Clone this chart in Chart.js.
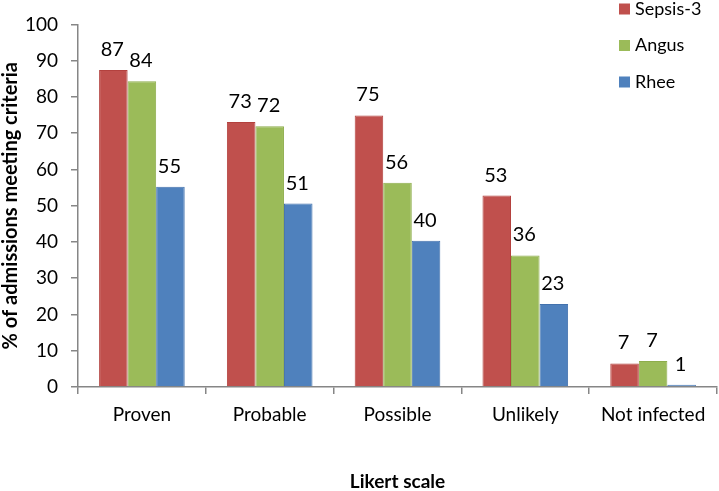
<!DOCTYPE html>
<html lang="en">
<head>
    <meta charset="UTF-8">
    <title>Likert scale</title>
    <script src="https://cdn.jsdelivr.net/npm/chart.js"></script>
    <style>
        body { margin: 0; background: #fff; }
        .container { width: 719px; height: 491px; }
    </style>
</head>
<body>
    <div class="container">
        <canvas id="likertChart" width="719" height="491"></canvas>
    </div>

    <script>
        const categories = ['Proven', 'Probable', 'Possible', 'Unlikely', 'Not infected'];
        const sepsis3 = [87.4, 73.1, 74.9, 52.8, 6.5];
        const angus = [84.3, 71.9, 56.3, 36.3, 7.2];
        const rhee = [55.2, 50.6, 40.3, 22.9, 0.6];
        const yTicks = [0, 10, 20, 30, 40, 50, 60, 70, 80, 90, 100];

        const axisGrey = '#868686';
        Chart.defaults.font.family = 'Lato, "Liberation Sans", sans-serif';
        Chart.defaults.color = '#000';

        // value labels above each bar
        const barLabels = {
            id: 'barLabels',
            afterDatasetsDraw(chart) {
                const ctx = chart.ctx;
                ctx.save();
                ctx.font = '20px Lato';
                ctx.fillStyle = '#000';
                ctx.textAlign = 'center';
                ctx.textBaseline = 'alphabetic';
                chart.data.datasets.forEach((ds, i) => {
                    chart.getDatasetMeta(i).data.forEach((bar, j) => {
                        ctx.fillText(Math.round(ds.data[j]), bar.x - 1, bar.y - 14);
                    });
                });
                ctx.restore();
            }
        };

        // legend stacked in the top right corner, over the plot
        const cornerLegend = {
            id: 'cornerLegend',
            afterDraw(chart) {
                const ctx = chart.ctx;
                const left = chart.chartArea.right - 98;
                ctx.save();
                ctx.font = '18px Lato';
                ctx.textBaseline = 'middle';
                ctx.textAlign = 'left';
                chart.data.datasets.forEach((ds, i) => {
                    const y = 9 + i * 36.5;
                    ctx.fillStyle = ds.backgroundColor;
                    ctx.fillRect(left, y - 5.5, 11, 11);
                    ctx.fillStyle = '#000';
                    ctx.fillText(ds.label, left + 16, y);
                });
                ctx.restore();
            }
        };

        const ctx = document.getElementById('likertChart').getContext('2d');
        const chart = new Chart(ctx, {
            type: 'bar',
            data: {
                labels: categories,
                datasets: [
                    { label: 'Sepsis-3', data: sepsis3, backgroundColor: '#C0504D', borderColor: '#B3413E', borderWidth: 1 },
                    { label: 'Angus', data: angus, backgroundColor: '#9BBB59', borderColor: '#8DAD4B', borderWidth: 1 },
                    { label: 'Rhee', data: rhee, backgroundColor: '#4F81BD', borderColor: '#4372AD', borderWidth: 1 }
                ]
            },
            options: {
                responsive: false,
                animation: false,
                layout: { padding: { top: 12, right: 2, left: 0, bottom: 0 } },
                datasets: {
                    bar: { categoryPercentage: 0.67, barPercentage: 1 }
                },
                plugins: {
                    legend: { display: false },
                    tooltip: { enabled: false }
                },
                scales: {
                    x: {
                        grid: { display: true, drawOnChartArea: false, offset: true, tickLength: 7, color: axisGrey, lineWidth: 1.5 },
                        border: { display: true, color: axisGrey, width: 1.5 },
                        ticks: { font: { size: 19 }, padding: 9, color: '#000' },
                        title: {
                            display: true,
                            text: 'Likert scale',
                            font: { size: 19, weight: 'bold', lineHeight: 1 },
                            padding: { top: -1, bottom: 0 },
                            color: '#000'
                        },
                        afterFit: (scale) => { scale.height = 104; }
                    },
                    y: {
                        min: 0,
                        max: 100,
                        afterBuildTicks: (scale) => { scale.ticks = yTicks.map(v => ({ value: v })); },
                        grid: { display: true, drawOnChartArea: false, tickLength: 7, color: axisGrey, lineWidth: 1.5 },
                        border: { display: true, color: axisGrey, width: 1.5 },
                        ticks: { font: { size: 19 }, padding: 13, color: '#000' },
                        title: {
                            display: true,
                            text: '% of admissions meeting criteria',
                            font: { size: 20, weight: 'bold', lineHeight: 1.2 },
                            padding: { top: -1, bottom: 0 },
                            color: '#000'
                        },
                        afterFit: (scale) => { scale.width = 78; }
                    }
                }
            },
            plugins: [barLabels, cornerLegend]
        });
    </script>
</body>
</html>
